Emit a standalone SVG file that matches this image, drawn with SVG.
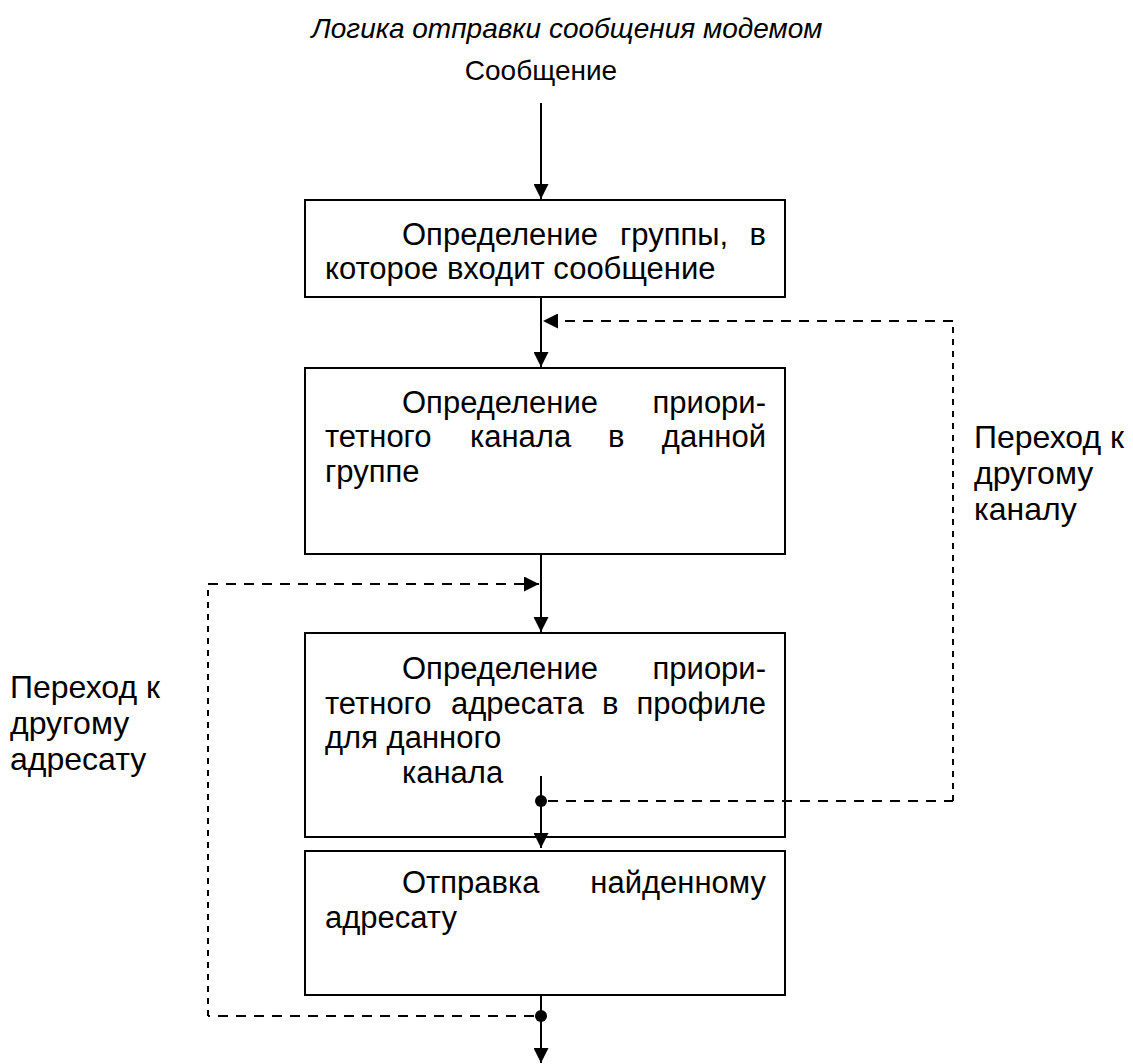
<svg xmlns="http://www.w3.org/2000/svg" width="1133" height="1064" viewBox="0 0 1133 1064">
<style>
text{font-family:"Liberation Sans",Arial,sans-serif;font-size:31px;fill:#000}
.t{font-style:italic;font-size:28px}
.h{font-size:28px}
.lb{font-size:32px}
.box{fill:#fff;stroke:#000;stroke-width:2}
.ln{fill:none;stroke:#000;stroke-width:2}
.dh{fill:none;stroke:#000;stroke-width:2;stroke-dasharray:10,8}
.dv{fill:none;stroke:#000;stroke-width:2;stroke-dasharray:6,6}
</style>
<defs>
<marker id="ah" viewBox="0 0 15 15" refX="15" refY="7.5" markerWidth="15" markerHeight="15" markerUnits="userSpaceOnUse" orient="auto"><path d="M0,0 L15,7.5 L0,15 Z" fill="#000"/></marker>
</defs>
<text class="t" x="567" y="38" text-anchor="middle">Логика отправки сообщения модемом</text>
<text class="h" x="541" y="80" text-anchor="middle">Сообщение</text>
<g id="n1">
<rect class="box" x="305" y="200" width="480" height="97"/>
<text x="402" y="245">Определение</text><text x="620" y="245">группы,</text><text x="766" y="245" text-anchor="end">в</text>
<text x="325" y="279">которое входит сообщение</text>
</g>
<g id="n2">
<rect class="box" x="305" y="368" width="480" height="186"/>
<text x="402" y="413">Определение</text><text x="766" y="413" text-anchor="end">приори-</text>
<text x="325" y="447">тетного</text><text x="470" y="447">канала</text><text x="608" y="447">в</text><text x="766" y="447" text-anchor="end">данной</text>
<text x="325" y="482">группе</text>
</g>
<g id="n3">
<rect class="box" x="305" y="633" width="480" height="204"/>
<text x="402" y="679">Определение</text><text x="766" y="679" text-anchor="end">приори-</text>
<text x="325" y="714">тетного</text><text x="451" y="714">адресата</text><text x="602" y="714">в</text><text x="766" y="714" text-anchor="end">профиле</text>
<text x="325" y="748">для данного</text>
<text x="402" y="783">канала</text>
</g>
<g id="n4">
<rect class="box" x="305" y="851" width="480" height="144"/>
<text x="402" y="893">Отправка</text><text x="766" y="893" text-anchor="end">найденному</text>
<text x="325" y="928">адресату</text>
</g>
<g id="lbl-right">
<text class="lb" x="974" y="448">Переход к</text>
<text class="lb" x="974" y="484">другому</text>
<text class="lb" x="974" y="520">каналу</text>
</g>
<g id="lbl-left">
<text class="lb" x="10" y="698">Переход к</text>
<text class="lb" x="10" y="734">другому</text>
<text class="lb" x="10" y="770">адресату</text>
</g>
<g id="connectors">
<line class="ln" x1="541" y1="103" x2="541" y2="199" marker-end="url(#ah)"/>
<line class="ln" x1="541" y1="297" x2="541" y2="367" marker-end="url(#ah)"/>
<line class="ln" x1="541" y1="554" x2="541" y2="632" marker-end="url(#ah)"/>
<line class="ln" x1="541" y1="776" x2="541" y2="848" marker-end="url(#ah)"/>
<line class="ln" x1="541" y1="995" x2="541" y2="1063" marker-end="url(#ah)"/>
<circle cx="541" cy="801" r="6" fill="#000"/>
<circle cx="541" cy="1016" r="6" fill="#000"/>
<line class="dh" x1="548" y1="801" x2="953" y2="801"/>
<line class="dv" x1="953" y1="801" x2="953" y2="321"/>
<line class="dh" x1="953" y1="321" x2="543" y2="321" marker-end="url(#ah)"/>
<line class="dh" x1="534" y1="1016" x2="208" y2="1016"/>
<line class="dv" x1="208" y1="1016" x2="208" y2="584"/>
<line class="dh" x1="208" y1="584" x2="539" y2="584" marker-end="url(#ah)"/>
</g>
</svg>
